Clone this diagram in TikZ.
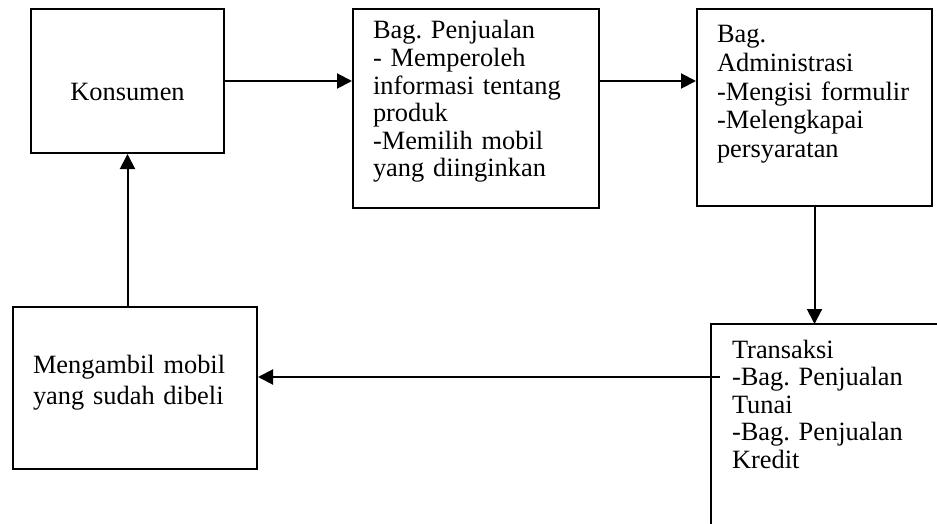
\documentclass[tikz,border=0pt]{standalone}
\usepackage{fontspec}
\setmainfont{Liberation Serif}
\usetikzlibrary{arrows.meta}
\frenchspacing
\tikzset{
  flowbox/.style={anchor=north west, line width=1pt, inner xsep=10pt, inner ysep=5pt,
    align=left, font=\fontsize{13.2pt}{13.8pt}\selectfont},
  flowarrow/.style={line width=1pt, -{Triangle[length=7.5pt,width=7.5pt]}}
}
\begin{document}
\begin{tikzpicture}[x=0.5pt, y=-0.5pt]
  \useasboundingbox (0,0) rectangle (937,524);
  \node[flowbox, draw, align=center, text width=76.5pt, text height=41pt, text depth=21pt]
    (konsumen) at (30,8) {Konsumen};
  \node[flowbox, draw, text width=103pt, text height=10pt, text depth=79.5pt]
    (penjualan) at (352,8) {Bag. Penjualan\\- Memperoleh\\informasi tentang\\produk\\-Memilih mobil\\yang diinginkan};
  \node[flowbox, draw, text width=97.5pt, text height=12pt, text depth=76.5pt,
    font=\fontsize{13.2pt}{14.3pt}\selectfont]
    (admin) at (696,8) {Bag.\\Administrasi\\-Mengisi formulir\\-Melengkapai\\persyaratan};
  \node[flowbox, text width=100pt, text height=11.5pt, text depth=88.5pt]
    (transaksi) at (711,324) {Transaksi\\-Bag. Penjualan\\Tunai\\-Bag. Penjualan\\Kredit};
  \draw[line width=1pt] (transaksi.south west) -- (transaksi.north west) -- (transaksi.north east);
  \node[flowbox, draw, text width=102pt, text height=28pt, text depth=43pt,
    font=\fontsize{13.2pt}{15.5pt}\selectfont]
    (mengambil) at (12,306) {Mengambil mobil\\yang sudah dibeli};
  \coordinate (tstart) at (720,377);
  % alur
  \draw[flowarrow] (konsumen.east) -- (konsumen.east -| penjualan.west);
  \draw[flowarrow] (konsumen.east -| penjualan.east) -- (konsumen.east -| admin.west);
  \draw[flowarrow] (admin.south) -- (admin.south |- transaksi.north);
  \draw[flowarrow] (tstart) -- (tstart -| mengambil.east);
  \draw[flowarrow] (konsumen.south |- mengambil.north) -- (konsumen.south);
\end{tikzpicture}
\end{document}
